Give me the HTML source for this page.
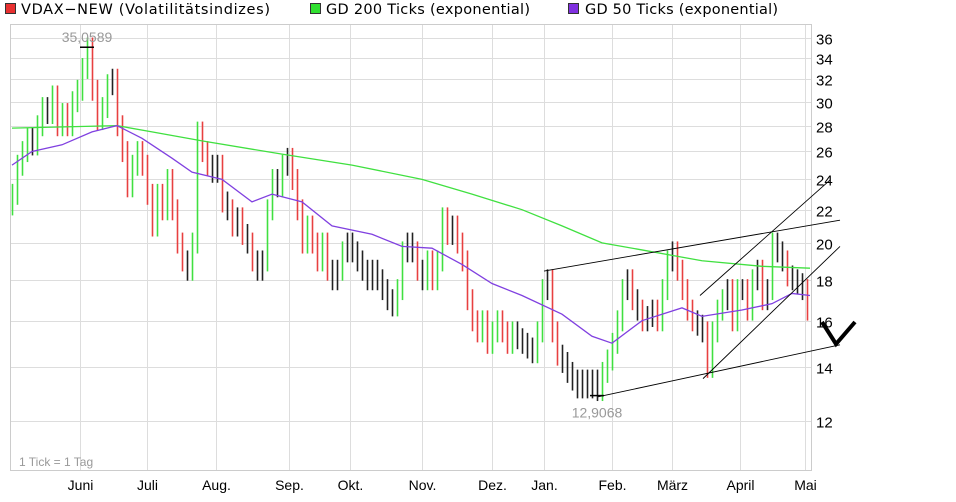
<!DOCTYPE html>
<html><head><meta charset="utf-8">
<style>
body{margin:0;background:#fff;width:956px;height:502px;overflow:hidden;font-family:"Liberation Sans",sans-serif;}
svg{display:block}
.lg{font-family:"DejaVu Sans","Liberation Sans",sans-serif;}
</style></head>
<body>
<svg id="chart" width="956" height="502" xmlns="http://www.w3.org/2000/svg">
  <g class="lg">
    <rect x="5.5" y="3.5" width="10" height="10" fill="#e83030" stroke="#333"/>
    <text x="21" y="14" font-size="14.5" textLength="249" fill="#000">VDAX−NEW (Volatilitätsindizes)</text>
    <rect x="310.5" y="3.5" width="10" height="10" fill="#30e030" stroke="#333"/>
    <text x="326" y="14" font-size="14.5" textLength="204" fill="#000">GD 200 Ticks (exponential)</text>
    <rect x="568.5" y="3.5" width="10" height="10" fill="#8030e0" stroke="#333"/>
    <text x="585" y="14" font-size="14.5" textLength="193" fill="#000">GD 50 Ticks (exponential)</text>
  </g>
  <rect x="10.5" y="24.5" width="801" height="446" fill="#fff" stroke="#ccc"/>
  <g id="grid"></g>
  <g id="bars"></g>
  <g id="lines"></g>
  <g id="annot"></g>
  <g id="axes"></g>
  <text x="19" y="466" font-size="12" fill="#999">1 Tick = 1 Tag</text>
</svg>
<script>
const closes=[23,25,26,27,26.5,28,29.5,29,30.5,28,29,28,30,31,33,35,31,28.5,29.5,31.5,32,28,26,23.5,25,26,25,23,21,23,22,24,22,20,19,18.5,20,27.5,26,25,24.5,25,22.5,22,21,21.5,20.5,20,19,18.5,19,22,24,23.5,25,25.5,24,22,20,21,20,19,20,18.5,18,18.5,19.5,20,19.5,19,18.5,18,18.5,18,17.5,17,16.7,17.5,19.5,20,19.5,18.5,18,19,18,19,21.5,20.5,21,20,19,17,16,15.5,16,15,15.5,16,15.5,15,15.5,15.2,15,14.8,14.6,15.5,17.5,18,15.5,14.5,14.2,13.8,13.5,13.2,13.5,13.2,13.5,13.1,13.8,14.3,15,16,17.5,18,17,16.5,16,16.2,16.5,16,17.5,19,19.5,18.5,17.5,16.5,16,15.8,15.5,14,15.5,16.5,17,17.5,16,17.5,17.5,16.5,18,18.5,17,17.5,20,19.5,19,18.2,18,17.8,17.5,16.5];
const gd200Idx=[0,21,28,38,54,68,82,92,102,110,118,126,138,150,159.6];
const gd200Val=[27.8,28,27.5,26.8,25.8,25,24,23,22,21,20,19.6,19,18.7,18.6];
const gd50Idx=[0,4,10,16,21,26,32,36,42,48,52,58,64,72,78,84,90,96,102,110,116,120,126,134,138,146,152,156,159.6];
const gd50Val=[25,26,26.5,27.5,28,27,25.5,24.5,24,22.5,23,22.5,21,20.5,19.8,19.7,18.8,17.8,17.2,16.3,15.3,15.0,16,16.6,16.2,16.5,16.8,17.3,17.2];
const yTicks=[12,14,16,18,20,22,24,26,28,30,32,34,36];
const months=["Juni","Juli","Aug.","Sep.","Okt.","Nov.","Dez.","Jan.","Feb.","März","April","Mai"];
const monthIdx=[13.6,27,40.8,55.4,67.6,82,96,106.4,120,132,145.6,158.6];
const trendA=[[106.4,18.45],[165.6,21.35]];
const trendB=[[117.2,12.86],[165.6,14.93]];
const trendC=[[137.6,17.2],[163.6,23.95]];
const trendD=[[138.2,13.55],[165.6,19.8]];
const maxMark={idx:15,val:35.0589,label:"35,0589"};
const minMark={idx:117,val:12.9068,label:"12,9068"};

const NS="http://www.w3.org/2000/svg";
const X=i=>12+i*5;
const Y=v=>38+(Math.log(36)-Math.log(v))*348.6;
function mk(tag,attrs,parent){const e=document.createElementNS(NS,tag);for(const k in attrs)e.setAttribute(k,attrs[k]);parent.appendChild(e);return e;}
const grid=document.getElementById('grid'),axes=document.getElementById('axes'),bars=document.getElementById('bars'),lines=document.getElementById('lines'),annot=document.getElementById('annot');
yTicks.forEach(t=>{const y=Math.round(Y(t))+0.5;
 const l=mk('line',{x1:11,x2:811,y1:y,y2:y,stroke:'#ddd'},grid);
 
 
 const tx=mk('text',{x:816,y:y+6,'font-size':15,fill:'#000'},axes);tx.textContent=t;
 
 
});
months.forEach((m,k)=>{const x=Math.round(X(monthIdx[k]))+0.5;
 const l=mk('line',{x1:x,x2:x,y1:25,y2:470,stroke:'#ddd'},grid);
 
 
 const tx=mk('text',{x:x,y:490,'font-size':14,fill:'#000','text-anchor':'middle'},axes);tx.textContent=m;
 
 
});
closes.forEach((c,i)=>{const o=i?closes[i-1]:c*0.97;const hi=Math.max(o,c)*1.03,lo=Math.min(o,c)*0.97;
 const ch=(c-o)/o;const col=Math.abs(ch)<0.03?'#222':(c>o?'#40e040':'#e84040');
 const x=X(i)+0.5;
 const b=mk('line',{x1:x,x2:x,y1:Y(hi),y2:Y(lo),stroke:col,'stroke-width':1.6},bars);
 
 
});
function poly(idx,val,col,name){const p=mk('polyline',{points:idx.map((i,k)=>X(i)+','+Y(val[k])).join(' '),fill:'none',stroke:col,'stroke-width':1.3},lines);
 
 }
poly(gd200Idx,gd200Val,'#40e040','gd200-line');
poly(gd50Idx,gd50Val,'#8040e0','gd50-line');
[trendA,trendB,trendC,trendD].forEach(t=>{const l=mk('line',{x1:X(t[0][0]),y1:Y(t[0][1]),x2:X(t[1][0]),y2:Y(t[1][1]),stroke:'#000','stroke-width':0.9},annot);
 
 });
[maxMark,minMark].forEach((m,k)=>{const y=Y(m.val);const x=X(m.idx);
 const l=mk('line',{x1:x-7,x2:x+7,y1:y,y2:y,stroke:'#000','stroke-width':1.5},annot);
 
 
 const tx=mk('text',{x:x,y:k?y+22:y-5,'font-size':14,fill:'#999','text-anchor':'middle'},annot);tx.textContent=m.label;
 
 });
const v=mk('polyline',{points:'822,322 836,344 855,322',fill:'none',stroke:'#000','stroke-width':4},annot);


</script>
</body></html>
